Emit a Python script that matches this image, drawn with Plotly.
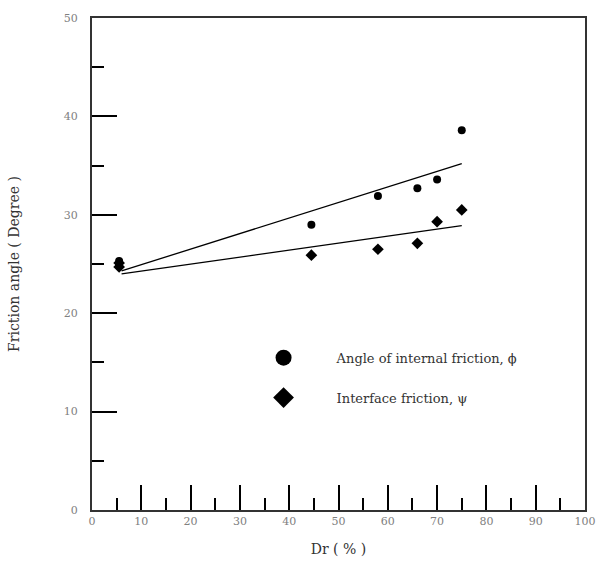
import plotly.graph_objects as go

# Relative density Dr (%) and measured friction angles (degrees)
dr_phi = [5.5, 5.5, 44.5, 58, 66, 70, 75]
phi = [25.3, 24.9, 29.0, 31.9, 32.7, 33.6, 38.6]

dr_psi = [5.5, 5.5, 44.5, 58, 66, 70, 75]
psi = [24.7, 25.1, 25.9, 26.5, 27.1, 29.3, 30.5]

# Linear trend lines (end points)
fit_x = [6, 75]
fit_phi = [24.3, 35.2]
fit_psi = [24.0, 28.9]

label_phi = "Angle of internal friction, \u03d5"
label_psi = "Interface friction, \u03c8"

serif = "DejaVu Serif, serif"
pad = "\u00a0" * 8

fig = go.Figure()

fig.add_trace(go.Scatter(x=fit_x, y=fit_phi, mode="lines",
                         line=dict(color="black", width=1.3), showlegend=False))
fig.add_trace(go.Scatter(x=fit_x, y=fit_psi, mode="lines",
                         line=dict(color="black", width=1.3), showlegend=False))
fig.add_trace(go.Scatter(x=dr_phi, y=phi, mode="markers",
                         marker=dict(symbol="circle", size=8, color="black"),
                         showlegend=False))
fig.add_trace(go.Scatter(x=dr_psi, y=psi, mode="markers",
                         marker=dict(symbol="diamond", size=9, color="black"),
                         showlegend=False))

# Legend entries with larger symbols
fig.add_trace(go.Scatter(x=[None], y=[None], mode="markers", name=pad + label_phi,
                         legendgroup="a",
                         marker=dict(symbol="circle", size=18, color="black")))
fig.add_trace(go.Scatter(x=[None], y=[None], mode="markers", name=pad + label_psi,
                         legendgroup="b",
                         marker=dict(symbol="diamond", size=18, color="black")))

axis_common = dict(
    showline=True, linecolor="#333333", linewidth=2, mirror=True,
    showgrid=False, zeroline=False, automargin=False,
    ticks="inside", tickcolor="black", tickwidth=1.5, ticklen=25,
    tickfont=dict(family=serif, size=11, color="#808080"),
    minor=dict(ticks="inside", ticklen=12, tickwidth=1.5, tickcolor="black", dtick=5),
)

fig.update_xaxes(range=[0, 100], dtick=10, tick0=0,
                 title=dict(text="Dr ( % )", font=dict(family=serif, size=14, color="#333333"),
                            standoff=17),
                 ticklabelstandoff=0, **axis_common)
fig.update_yaxes(range=[0, 50], dtick=10, tick0=0,
                 title=dict(text="Friction angle ( Degree )",
                            font=dict(family=serif, size=14, color="#333333"),
                            standoff=41),
                 ticklabelstandoff=10, **axis_common)

fig.update_layout(
    template="none",
    width=597, height=563,
    margin=dict(l=92, r=12, t=18, b=53),
    plot_bgcolor="white", paper_bgcolor="white",
    showlegend=True,
    legend=dict(x=0.348, y=0.34, xanchor="left", yanchor="top",
                font=dict(family=serif, size=13, color="#333333"),
                bgcolor="rgba(0,0,0,0)", tracegroupgap=20,
                itemsizing="trace"),
)

fig.write_html("out.html")
